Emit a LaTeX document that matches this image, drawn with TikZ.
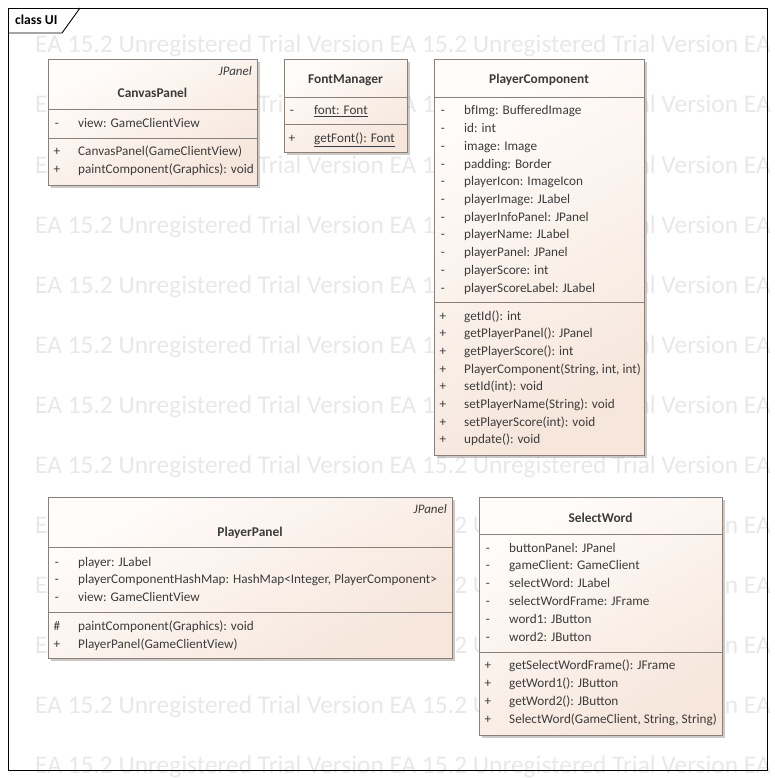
\documentclass[tikz,border=0pt]{standalone}
\usepackage{fontspec}
\setmainfont{Carlito}
\usetikzlibrary{shadows}
\definecolor{umlline}{RGB}{138,128,122}
\definecolor{umltext}{RGB}{60,60,60}
\definecolor{umllight}{RGB}{255,252,250}
\definecolor{umldark}{RGB}{246,230,219}
\definecolor{wmgray}{RGB}{232,232,232}
\begin{document}
\begin{tikzpicture}[x=1pt,y=-1pt,
  classbox/.style={draw=umlline, line width=0.9pt, anchor=north west,
    top color=umllight, bottom color=umldark, shading angle=30,
    drop shadow={shadow xshift=3pt, shadow yshift=-3pt, fill=black!35, opacity=0.6}},
  divider/.style={draw=umlline, line width=0.9pt},
  member/.style={anchor=base west, inner sep=0pt, text=umltext, font=\fontsize{13.2}{15}\selectfont},
  vis/.style={member, anchor=base},
  classname/.style={anchor=base, inner sep=0pt, text=umltext, font=\fontsize{13.4}{15}\selectfont\bfseries},
  stereo/.style={anchor=base east, inner sep=0pt, text=umltext, font=\fontsize{13}{15}\selectfont\itshape},
  watermark/.style={anchor=base west, inner sep=0pt, text=wmgray, font=\fontsize{25.4}{27}\selectfont}]
\useasboundingbox (0,0) rectangle (775,778);

% watermark rows
\begin{scope}
\clip (0,0) rectangle (775,778);
\foreach \r in {0,...,12}
  \node[watermark] (wm\r) at (35,{53+60*\r}) {EA 15.2 Unregistered Trial Version EA 15.2 Unregistered Trial Version EA};
\end{scope}

% frame
\draw[line width=0.9pt] (8,8) rectangle (767,770);
\draw[line width=0.9pt] (8,33) -- (62,33) -- (80,8);
\node[anchor=base west, inner sep=0pt, font=\fontsize{13.6}{15}\selectfont\bfseries] (frametitle) at (15,25) {class UI};

% CanvasPanel
\node[classbox, minimum width=209pt, minimum height=126pt] (canvas) at (48,59) {};
\draw[divider] (canvas.west |- 0,109) -- (canvas.east |- 0,109);
\draw[divider] (canvas.west |- 0,138) -- (canvas.east |- 0,138);
\node[stereo] (canvasst) at (252,76) {JPanel};
\node[classname] (canvasname) at (152.5,98) {CanvasPanel};
\node[vis] (canvasv1) at (57,128) {-};
\node[member] (canvasa1) at (78,128) {view: GameClientView};
\foreach \v/\t [count=\i from 0] in {+/{CanvasPanel(GameClientView)}, +/{paintComponent(Graphics): void}}{
  \node[vis] (canvasov\i) at (57,{156+18*\i}) {\v};
  \node[member] (canvaso\i) at (78,{156+18*\i}) {\t};
}

% FontManager
\node[classbox, minimum width=123pt, minimum height=93pt] (font) at (284,59) {};
\draw[divider] (font.west |- 0,97) -- (font.east |- 0,97);
\draw[divider] (font.west |- 0,124) -- (font.east |- 0,124);
\node[classname] (fontname) at (345.5,84) {FontManager};
\node[vis] (fontv1) at (292,115) {-};
\node[member] (fonta1) at (314,115) {\underline{font: Font}};
\node[vis] (fontov1) at (292,143) {+};
\node[member] (fonto1) at (314,143) {\underline{getFont(): Font}};

% PlayerComponent
\node[classbox, minimum width=210pt, minimum height=396pt] (pcomp) at (434,59) {};
\draw[divider] (pcomp.west |- 0,97) -- (pcomp.east |- 0,97);
\draw[divider] (pcomp.west |- 0,302) -- (pcomp.east |- 0,302);
\node[classname] (pcompname) at (539,84) {PlayerComponent};
\foreach \v/\t [count=\i from 0] in {-/{bfImg: BufferedImage}, -/{id: int}, -/{image: Image},
    -/{padding: Border}, -/{playerIcon: ImageIcon}, -/{playerImage: JLabel},
    -/{playerInfoPanel: JPanel}, -/{playerName: JLabel}, -/{playerPanel: JPanel},
    -/{playerScore: int}, -/{playerScoreLabel: JLabel}}{
  \node[vis] (pcompv\i) at (443,{115+17.7*\i}) {\v};
  \node[member] (pcompa\i) at (464,{115+17.7*\i}) {\t};
}
\foreach \v/\t [count=\i from 0] in {+/{getId(): int}, +/{getPlayerPanel(): JPanel},
    +/{getPlayerScore(): int}, +/{PlayerComponent(String, int, int)}, +/{setId(int): void},
    +/{setPlayerName(String): void}, +/{setPlayerScore(int): void}, +/{update(): void}}{
  \node[vis] (pcompov\i) at (443,{320+17.7*\i}) {\v};
  \node[member] (pcompo\i) at (464,{320+17.7*\i}) {\t};
}

% PlayerPanel
\node[classbox, minimum width=404pt, minimum height=161pt] (ppanel) at (48,497) {};
\draw[divider] (ppanel.west |- 0,547) -- (ppanel.east |- 0,547);
\draw[divider] (ppanel.west |- 0,612) -- (ppanel.east |- 0,612);
\node[stereo] (ppanelst) at (447,513) {JPanel};
\node[classname] (ppanelname) at (250,536) {PlayerPanel};
\foreach \v/\t [count=\i from 0] in {-/{player: JLabel},
    -/{playerComponentHashMap: HashMap<Integer, PlayerComponent>}, -/{view: GameClientView}}{
  \node[vis] (ppanelv\i) at (57,{566+17.7*\i}) {\v};
  \node[member] (ppanela\i) at (78,{566+17.7*\i}) {\t};
}
\foreach \v/\t [count=\i from 0] in {\#/{paintComponent(Graphics): void}, +/{PlayerPanel(GameClientView)}}{
  \node[vis] (ppanelov\i) at (57,{630+18*\i}) {\v};
  \node[member] (ppanelo\i) at (78,{630+18*\i}) {\t};
}

% SelectWord
\node[classbox, minimum width=243pt, minimum height=238pt] (sword) at (479,497) {};
\draw[divider] (sword.west |- 0,534) -- (sword.east |- 0,534);
\draw[divider] (sword.west |- 0,652) -- (sword.east |- 0,652);
\node[classname] (swordname) at (600.5,522) {SelectWord};
\foreach \v/\t [count=\i from 0] in {-/{buttonPanel: JPanel}, -/{gameClient: GameClient},
    -/{selectWord: JLabel}, -/{selectWordFrame: JFrame}, -/{word1: JButton}, -/{word2: JButton}}{
  \node[vis] (swordv\i) at (488,{552+17.8*\i}) {\v};
  \node[member] (sworda\i) at (509,{552+17.8*\i}) {\t};
}
\foreach \v/\t [count=\i from 0] in {+/{getSelectWordFrame(): JFrame}, +/{getWord1(): JButton},
    +/{getWord2(): JButton}, +/{SelectWord(GameClient, String, String)}}{
  \node[vis] (swordov\i) at (488,{669+18*\i}) {\v};
  \node[member] (swordo\i) at (509,{669+18*\i}) {\t};
}
\end{tikzpicture}
\end{document}
